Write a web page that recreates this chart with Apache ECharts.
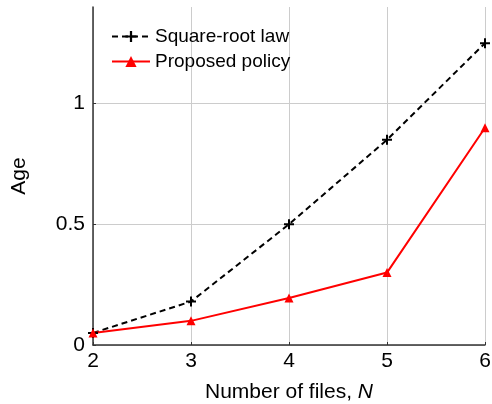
<!DOCTYPE html>
<html><head><meta charset="utf-8">
<script src="https://cdn.jsdelivr.net/npm/echarts@6/dist/echarts.min.js"></script>
<style>html,body{margin:0;padding:0;background:#fff}#c{width:492px;height:404px}</style>
</head><body><div id="c"></div>
<script>
const xValues = [2, 3, 4, 5, 6];
const sqrtLaw = [0.05, 0.18, 0.5, 0.85, 1.25];
const proposed = [0.05, 0.10, 0.195, 0.30, 0.90];
const seriesNames = ['Square-root law', 'Proposed policy'];
const yTicks = [0, 0.5, 1];

const plus = 'path://M4,0 L6,0 L6,4 L10,4 L10,6 L6,6 L6,10 L4,10 L4,6 L0,6 L0,4 L4,4 Z';
const font = 'Liberation Sans, Arial, Helvetica, sans-serif';
const chart = echarts.init(document.getElementById('c'));
chart.setOption({
  animation: false,
  textStyle: { fontFamily: font },
  grid: { left: 93, right: 7, top: 7, bottom: 59, containLabel: false, outerBoundsMode: 'none' },
  legend: {
    left: 106, top: 22, orient: 'vertical', itemWidth: 38, itemHeight: 14, itemGap: 6,
    textStyle: { fontSize: 19, color: '#000', fontFamily: font },
    data: seriesNames
  },
  xAxis: {
    type: 'value', min: 2, max: 6, interval: 1,
    name: 'Number of files, {i|N}', nameLocation: 'middle', nameGap: 37,
    nameTextStyle: { fontSize: 21, color: '#000', rich: { i: { fontStyle: 'italic', fontSize: 21, color: '#000' } } },
    axisLine: { lineStyle: { color: '#333', width: 1.5 } },
    axisTick: { inside: true, length: 3, lineStyle: { color: '#333' } },
    axisLabel: { fontSize: 21, color: '#000', margin: 6 },
    splitLine: { show: true, lineStyle: { color: '#ccc' } }
  },
  yAxis: {
    type: 'value', min: 0, max: 1.4, interval: 0.5,
    name: 'Age', nameLocation: 'middle', nameGap: 63,
    nameTextStyle: { fontSize: 21, color: '#000' },
    axisLine: { show: true, lineStyle: { color: '#333', width: 1.5 } },
    axisTick: { show: true, inside: true, length: 3, lineStyle: { color: '#333' } },
    axisLabel: { fontSize: 21, color: '#000', margin: 8, showMaxLabel: false,
      formatter: v => yTicks.some(t => Math.abs(t - v) < 1e-9) ? String(v) : '' },
    splitLine: { show: true, showMaxLine: false, lineStyle: { color: '#ccc' } }
  },
  series: [
    { name: seriesNames[0], type: 'line', data: xValues.map((x, i) => [x, sqrtLaw[i]]),
      symbol: plus, symbolSize: 10,
      lineStyle: { color: '#000', width: 2, type: [6, 4] },
      itemStyle: { color: '#000' } },
    { name: seriesNames[1], type: 'line', data: xValues.map((x, i) => [x, proposed[i]]),
      symbol: 'triangle', symbolSize: 9,
      lineStyle: { color: '#f00', width: 2 },
      itemStyle: { color: '#f00' } }
  ]
});
</script></body></html>
